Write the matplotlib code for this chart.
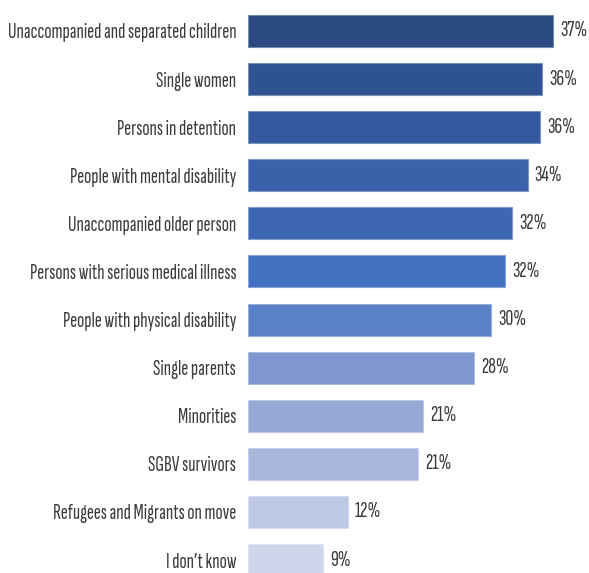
import matplotlib.pyplot as plt
import matplotlib.colors as mcolors

categories = [
    'Unaccompanied and separated children',
    'Single women',
    'Persons in detention',
    'People with mental disability',
    'Unaccompanied older person',
    'Persons with serious medical illness',
    'People with physical disability',
    'Single parents',
    'Minorities',
    'SGBV survivors',
    'Refugees and Migrants on move',
    'I don\u2019t know',
]
values = [37.0, 35.7, 35.4, 33.9, 32.0, 31.2, 29.5, 27.4, 21.2, 20.6, 12.1, 9.1]
value_labels = ['37%', '36%', '36%', '34%', '32%', '32%', '30%', '28%',
                '21%', '21%', '12%', '9%']
bar_colors = ['#2B4A7F', '#2F5391', '#34599F', '#3962AA', '#3D67B3', '#4271C1',
              '#5A80C8', '#7F97CF', '#96A9D7', '#A9B7DD', '#BEC8E5', '#CFD6EB']


def lighter(c, amount=0.35):
    r, g, b = mcolors.to_rgb(c)
    return (r + (1 - r) * amount, g + (1 - g) * amount, b + (1 - b) * amount)


def draw_chart():
    plt.rcParams['font.family'] = ['Sofia Sans Extra Condensed', 'DejaVu Sans']
    plt.rcParams['font.weight'] = 'light'
    fig = plt.figure(figsize=(5.89, 5.73), dpi=100)
    ax = fig.add_axes([248 / 589, 0, 1 - 248 / 589 - 0.005, 1])

    y = list(range(len(categories)))
    ax.barh(y, values, height=0.665, color=bar_colors,
            edgecolor=[lighter(c) for c in bar_colors], linewidth=0.8)

    for yi, v, lab in zip(y, values, value_labels):
        ax.text(v + 0.85, yi, lab, va='center', ha='left',
                fontsize=15.8, color='#3b3b3b')

    ax.set_yticks(y)
    ax.set_yticklabels(categories, fontsize=15.3, color='#3b3b3b')
    ax.tick_params(axis='y', length=0, pad=8.5)
    ax.set_xticks([])
    ax.set_xlim(0, 41)
    ax.set_ylim(11.27, -0.644)
    for s in ax.spines.values():
        s.set_visible(False)

    fig.savefig('out.png', dpi=100)


if __name__ == '__main__':
    draw_chart()
